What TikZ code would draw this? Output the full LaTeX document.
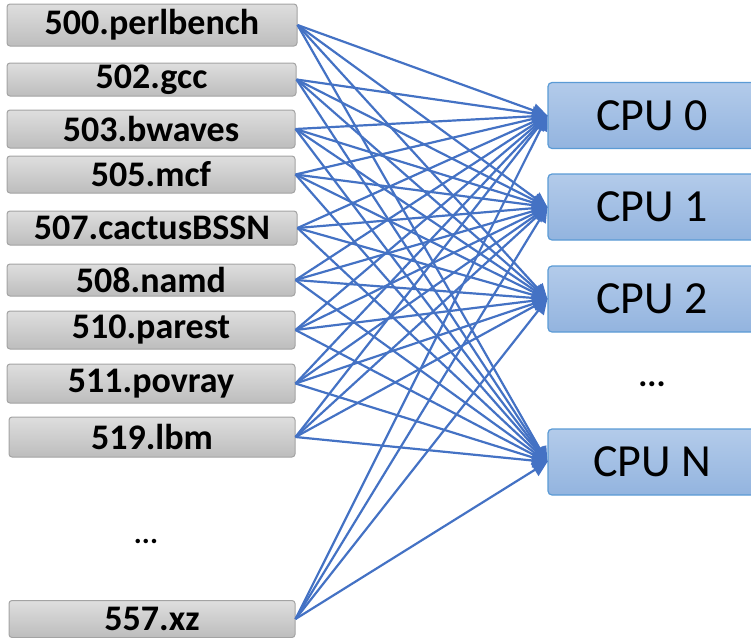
\documentclass[tikz,border=0pt]{standalone}
\usepackage{fontspec}
\setmainfont{Carlito}
\usetikzlibrary{arrows.meta}
\definecolor{edgeblue}{HTML}{4472C4}
\definecolor{graytop}{HTML}{DEDEDE}
\definecolor{graybot}{HTML}{BDBDBD}
\definecolor{grayline}{HTML}{A3A3A3}
\definecolor{bluetop}{HTML}{B3CBEA}
\definecolor{bluebot}{HTML}{93B4DF}
\definecolor{blueline}{HTML}{5B9BD5}
\begin{document}
\begin{tikzpicture}[x=0.5pt,y=-0.5pt,
  bench/.style={draw=grayline, line width=0.5pt, rounded corners=1.5pt, top color=graytop, bottom color=graybot,
    font=\bfseries\fontsize{18}{18}\selectfont, inner sep=0pt},
  cpu/.style={draw=blueline, line width=0.6pt, rounded corners=2pt, top color=bluetop, bottom color=bluebot,
    font=\fontsize{23}{23}\selectfont, inner sep=0pt, minimum width=104pt, minimum height=33pt},
  link/.style={draw=edgeblue, line width=1.1pt, -{Triangle[length=7.5pt,width=7pt]}}]
\useasboundingbox (0,0) rectangle (751,638);
% benchmark boxes
\node[bench, minimum width=145pt, minimum height=21pt] (b0) at (152,25) {500.perlbench};
\node[bench, minimum width=144.5pt, minimum height=16.5pt] (b1) at (151.5,79.5) {502.gcc};
\node[bench, minimum width=144pt, minimum height=19pt] (b2) at (151,129) {503.bwaves};
\node[bench, minimum width=144pt, minimum height=18.5pt] (b3) at (151,174.5) {505.mcf};
\node[bench, minimum width=145pt, minimum height=17pt] (b4) at (152,228) {507.cactusBSSN};
\node[bench, minimum width=144pt, minimum height=16pt] (b5) at (151,280) {508.namd};
\node[bench, minimum width=144pt, minimum height=19pt] (b6) at (151,330) {510.parest};
\node[bench, minimum width=144pt, minimum height=19.5pt] (b7) at (151,383.5) {511.povray};
\node[bench, minimum width=143pt, minimum height=20pt] (b8) at (152,437) {519.lbm};
\node[bench, minimum width=143pt, minimum height=18.5pt] (b9) at (152,619) {557.xz};
\node[font=\bfseries\fontsize{15}{15}\selectfont] (ldots) at (146,541) {...};
% CPU boxes
\node[cpu] (c0) at (652,115.5) {CPU 0};
\node[cpu] (c1) at (652,207) {CPU 1};
\node[cpu] (c2) at (652,299) {CPU 2};
\node[cpu] (cn) at (652,462) {CPU N};
\node[font=\bfseries\fontsize{17}{17}\selectfont] (rdots) at (652,384) {...};
% connections
\foreach \b in {b0,b1,b2,b3,b4,b5,b6,b7,b8,b9}{
  \foreach \c in {c0,c1,c2,cn}{
    \path[link] (\b.east) -- (\c.west);
  }
}
\end{tikzpicture}
\end{document}
